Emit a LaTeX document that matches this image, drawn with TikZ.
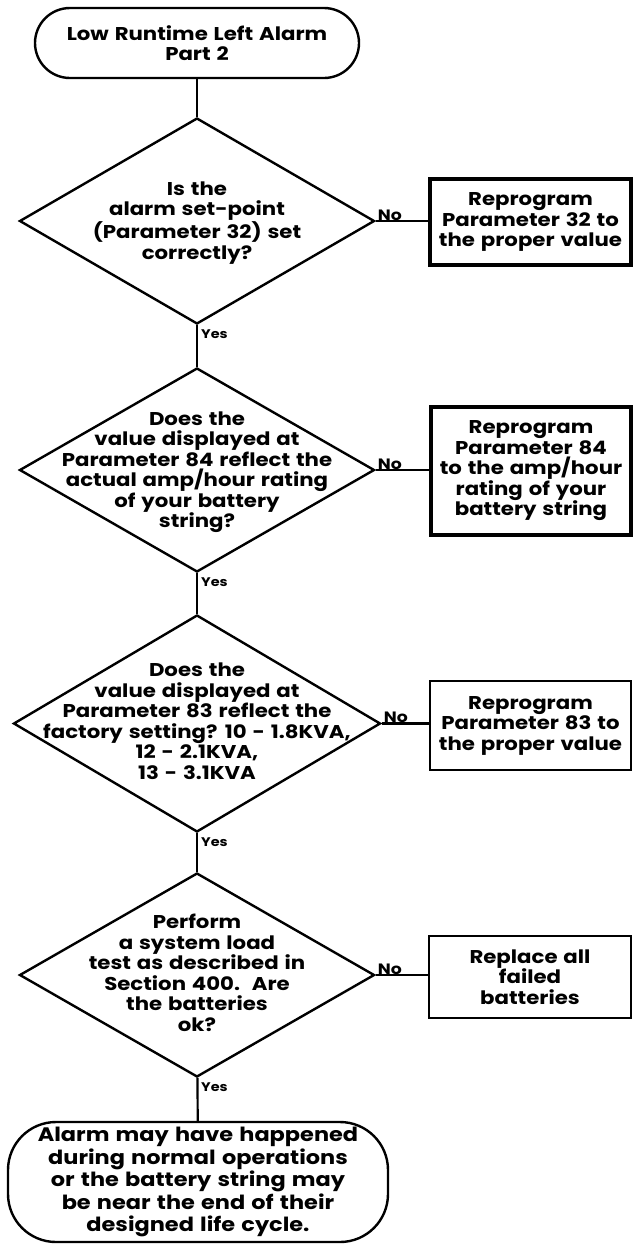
\documentclass[tikz,border=0pt]{standalone}
\usepackage{fontspec}
\setmainfont{Poppins}[FakeStretch=1.15, WordSpace=1.3]
\usetikzlibrary{shapes.geometric}

\tikzset{
  base/.style={font=\fontsize{18.5}{20.5}\selectfont\bfseries, align=center, inner sep=0pt},
  term/.style={base, draw, line width=2.4pt, rectangle},
  decision/.style={draw, line width=2.4pt, shape=diamond, inner sep=0pt},
  qtext/.style={base},
  thickbox/.style={base, draw, line width=4pt, rectangle, minimum width=#1},
  thinbox/.style={base, draw, line width=2.4pt, rectangle, minimum width=#1},
  conn/.style={line width=2.2pt},
  nolabel/.style={font=\fontsize{15}{15}\selectfont\bfseries, inner sep=0pt},
  yeslabel/.style={font=\fontsize{12.5}{12.5}\selectfont\bfseries, inner sep=0pt},
}

\begin{document}
\begin{tikzpicture}[x=1pt,y=-1pt]
\useasboundingbox (0,0) rectangle (633,1251);
\fill[white] (0,0) rectangle (633,1251);

% start terminator
\node[term, minimum width=324pt, minimum height=70pt, rounded corners=35pt]
  (start) at (197,43) {Low Runtime Left Alarm\\Part 2};

% decisions
\node[decision, minimum width=355pt, minimum height=206pt] (d1) at (197,221) {};
\node[qtext] (q1) at (197,223) {Is the\\alarm set-point\\(Parameter 32) set\\correctly?};

\node[decision, minimum width=355pt, minimum height=204pt] (d2) at (197,470) {};
\node[qtext] (q2) at (197,472) {Does the\\value displayed at\\Parameter 84 reflect the\\actual amp/hour rating\\of your battery\\string?};

\node[decision, minimum width=367pt, minimum height=217pt] (d3) at (197,723.5) {};
\node[qtext] (q3) at (197,721) {Does the\\value displayed at\\Parameter 83 reflect the\\factory setting? 10 - 1.8KVA,\\12 - 2.1KVA,\\13 - 3.1KVA};

\node[decision, minimum width=355pt, minimum height=204pt] (d4) at (197,975) {};
\node[qtext] (q4) at (197,973) {Perform\\a system load\\test as described in\\Section 400.\ \ Are\\the batteries\\ok?};

% end terminator
\node[term, minimum width=380pt, minimum height=120pt, rounded corners=48pt,
  font=\fontsize{19.5}{22.5}\selectfont\bfseries]
  (finish) at (198,1182) {Alarm may have happened\\during normal operations\\or the battery string may\\be near the end of their\\designed life cycle.};

% action boxes
\node[thickbox=201pt, minimum height=86pt] (b1) at (530.5,222) {Reprogram\\Parameter 32 to\\the proper value};
\node[thickbox=200pt, minimum height=128pt] (b2) at (531,471) {Reprogram\\Parameter 84\\to the amp/hour\\rating of your\\battery string};
\node[thinbox=201pt, minimum height=89pt] (b3) at (530.5,725.5) {Reprogram\\Parameter 83 to\\the proper value};
\node[thinbox=202pt, minimum height=82pt] (b4) at (530,977) {Replace all\\failed\\batteries};

% main spine
\draw[conn] (start) -- (d1);
\draw[conn] (d1) -- (d2);
\draw[conn] (d2) -- (d3);
\draw[conn] (d3) -- (d4);
\draw[conn] (d4) -- (finish);

% "No" branches
\draw[conn] (d1.east) -- (d1.east -| b1.west);
\draw[conn] (d2.east) -- (d2.east -| b2.west);
\draw[conn] (d3.east) -- (d3.east -| b3.west);
\draw[conn] (d4.east) -- (d4.east -| b4.west);

\node[nolabel, anchor=base west] (n1) at ([xshift=2pt,yshift=1pt]d1.east) {No};
\node[nolabel, anchor=base west] (n2) at ([xshift=2pt,yshift=1pt]d2.east) {No};
\node[nolabel, anchor=base west] (n3) at ([xshift=2pt,yshift=1pt]d3.east) {No};
\node[nolabel, anchor=base west] (n4) at ([xshift=2pt,yshift=1pt]d4.east) {No};

% "Yes" labels
\node[yeslabel, anchor=north west] (y1) at ([xshift=4pt,yshift=-4pt]d1.south) {Yes};
\node[yeslabel, anchor=north west] (y2) at ([xshift=4pt,yshift=-4pt]d2.south) {Yes};
\node[yeslabel, anchor=north west] (y3) at ([xshift=4pt,yshift=-4pt]d3.south) {Yes};
\node[yeslabel, anchor=north west] (y4) at ([xshift=4pt,yshift=-4pt]d4.south) {Yes};
\end{tikzpicture}
\end{document}
